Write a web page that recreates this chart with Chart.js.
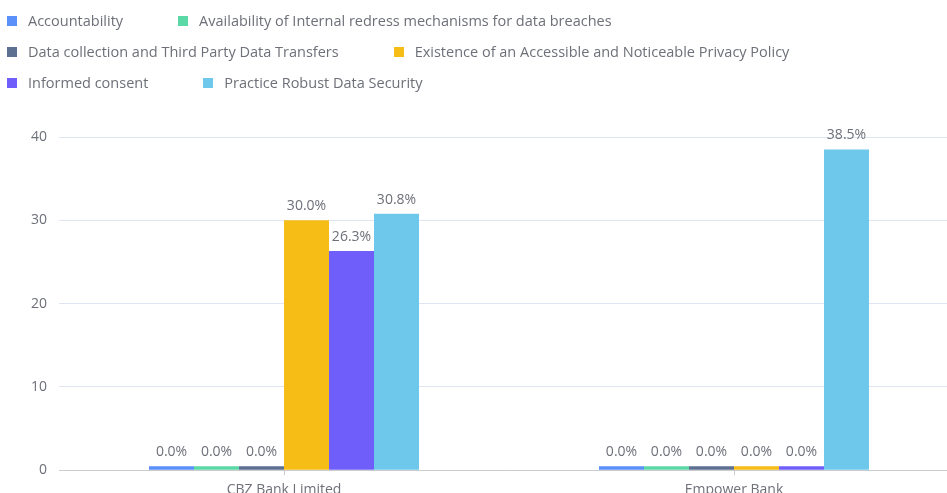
<!DOCTYPE html>
<html>
<head>
<meta charset="utf-8">
<script src="https://cdn.jsdelivr.net/npm/chart.js@4.4.1/dist/chart.umd.min.js"></script>
<style>
    html, body { margin: 0; padding: 0; background: #fff; overflow: hidden; }
    body { width: 947px; height: 493px; position: relative; font-family: "Open Sans", "Noto Sans", sans-serif; }
    #wrap { position: absolute; left: 0; top: 0; width: 962px; height: 504px; }
    #legend { position: absolute; left: 7px; top: 10px; z-index: 2; }
    .row { height: 31px; display: flex; align-items: flex-start; white-space: nowrap; }
    .item { display: flex; align-items: center; margin-right: 55px; font-size: 14.5px; color: #6e7079; line-height: 22px; }
    .box { width: 10px; height: 10px; margin-right: 11px; }
</style>
</head>
<body>
<div id="legend"></div>
<div id="wrap"><canvas id="chart"></canvas></div>
<script>
const banks = ['CBZ Bank Limited', 'Empower Bank'];

const seriesNames = [
    'Accountability',
    'Availability of Internal redress mechanisms for data breaches',
    'Data collection and Third Party Data Transfers',
    'Existence of an Accessible and Noticeable Privacy Policy',
    'Informed consent',
    'Practice Robust Data Security'
];

const accountability = [0, 0];
const availability = [0, 0];
const dataCollection = [0, 0];
const existence = [30.0, 0];
const informedConsent = [26.3, 0];
const practice = [30.8, 38.5];

const yTicks = [0, 10, 20, 30, 40];

const colors = ['#5B8FF9', '#5AD8A6', '#5D7092', '#F6BD16', '#6F5EF9', '#6DC8EC'];
const allValues = [accountability, availability, dataCollection, existence, informedConsent, practice];

// legend laid out in rows of two, like the original
const legendRows = [[0, 1], [2, 3], [4, 5]];
const legendEl = document.getElementById('legend');
legendRows.forEach(r => {
    const row = document.createElement('div');
    row.className = 'row';
    r.forEach(i => {
        const it = document.createElement('div');
        it.className = 'item';
        it.innerHTML = '<span class="box" style="background:' + colors[i] + '"></span>' + seriesNames[i];
        row.appendChild(it);
    });
    legendEl.appendChild(row);
});

// value labels on top of bars
const barLabels = {
    id: 'barLabels',
    afterDatasetsDraw(c) {
        const ctx = c.ctx;
        ctx.save();
        ctx.font = '14px "Open Sans", "Noto Sans", sans-serif';
        ctx.fillStyle = '#6e7079';
        ctx.textAlign = 'center';
        ctx.textBaseline = 'bottom';
        c.data.datasets.forEach((ds, i) => {
            const meta = c.getDatasetMeta(i);
            meta.data.forEach((el, j) => {
                ctx.fillText(ds.data[j].toFixed(1) + '%', el.x, el.y - 7);
            });
        });
        ctx.restore();
    }
};

const ctx = document.getElementById('chart');

new Chart(ctx, {
    type: 'bar',
    data: {
        labels: banks,
        datasets: seriesNames.map((name, i) => ({
            label: name,
            data: allValues[i],
            backgroundColor: colors[i],
            barPercentage: 1,
            categoryPercentage: 0.6,
            minBarLength: 4
        }))
    },
    options: {
        responsive: true,
        maintainAspectRatio: false,
        animation: false,
        layout: { padding: { top: 137, left: 19, right: 3, bottom: 0 } },
        plugins: {
            legend: { display: false },
            tooltip: { enabled: false }
        },
        scales: {
            x: {
                grid: { display: true, drawOnChartArea: false, offset: false, tickLength: 5, color: '#cccccc' },
                border: { color: '#cccccc' },
                ticks: { color: '#6e7079', font: { size: 14, family: '"Open Sans", "Noto Sans", sans-serif' }, padding: 6 }
            },
            y: {
                min: 0,
                max: 40,
                afterBuildTicks: axis => { axis.ticks = yTicks.map(v => ({ value: v })); },
                grid: { color: '#e0e6f1', drawTicks: false },
                border: { display: false },
                ticks: { color: '#6e7079', font: { size: 14, family: '"Open Sans", "Noto Sans", sans-serif' }, padding: 12 }
            }
        }
    },
    plugins: [barLabels]
});
</script>
</body>
</html>
